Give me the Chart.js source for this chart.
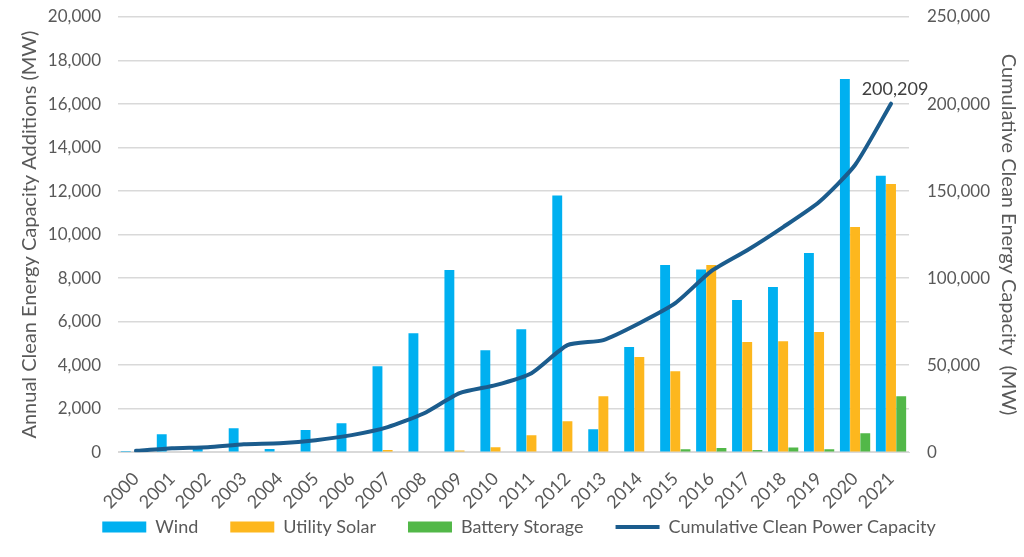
<!DOCTYPE html>
<html><head><meta charset="utf-8">
<script src="https://cdn.jsdelivr.net/npm/chart.js@4.4.1/dist/chart.umd.min.js"></script>
<style>html,body{margin:0;padding:0;background:#fff;}#wrap{width:1024px;height:557px;}</style>
</head><body><div id="wrap"><canvas id="c" width="1024" height="557"></canvas></div>
<script>
const years = ['2000','2001','2002','2003','2004','2005','2006','2007','2008','2009','2010','2011','2012','2013','2014','2015','2016','2017','2018','2019','2020','2021'];
const wind = [50,820,150,1100,150,1020,1330,3950,5470,8370,4690,5650,11800,1060,4830,8600,8400,6990,7590,9150,17150,12700];
const solar = [0,0,0,0,0,0,0,100,0,80,230,780,1420,2570,4370,3720,8600,5060,5100,5520,10350,12320];
const battery = [0,0,0,0,0,0,0,0,0,0,0,0,30,0,0,140,190,100,220,140,870,2570];
const cumulative = [800,2300,2900,4600,5200,6900,9800,14400,22200,33900,38500,45400,61500,64400,74100,85600,104000,116000,129300,143700,165000,200209];
const leftTicks = [0,2000,4000,6000,8000,10000,12000,14000,16000,18000,20000];
const rightTicks = [0,50000,100000,150000,200000,250000];
const endLabel = '200,209';

const FONT = 'Lato, "Open Sans", sans-serif';
const GREY = '#595959';
const fmt = v => v.toLocaleString('en-US');

const endLabelPlugin = {
  id: 'endLabel',
  afterDatasetsDraw(chart) {
    const meta = chart.getDatasetMeta(3);
    const pt = meta.data[meta.data.length - 1];
    const ctx = chart.ctx;
    ctx.save();
    ctx.font = '18px ' + FONT;
    ctx.fillStyle = '#404040';
    ctx.textAlign = 'center';
    ctx.textBaseline = 'bottom';
    ctx.fillText(endLabel, pt.x + 4, pt.y - 5);
    ctx.restore();
  }
};

const LEGEND_SHIFT = 35;
const legendShiftPlugin = {
  id: 'legendShift',
  afterLayout(chart) {
    if (chart.legend) { chart.legend.top -= LEGEND_SHIFT; chart.legend.bottom -= LEGEND_SHIFT; }
  }
};

new Chart(document.getElementById('c'), {
  type: 'bar',
  data: {
    labels: years,
    datasets: [
      {label: 'Wind', data: wind, backgroundColor: '#00B0F0', yAxisID: 'y', order: 1,
       categoryPercentage: 0.85, barPercentage: 0.97},
      {label: 'Utility Solar', data: solar, backgroundColor: '#FDB71E', yAxisID: 'y', order: 1,
       categoryPercentage: 0.85, barPercentage: 0.97},
      {label: 'Battery Storage', data: battery, backgroundColor: '#52B848', yAxisID: 'y', order: 1,
       categoryPercentage: 0.85, barPercentage: 0.97},
      {type: 'line', label: 'Cumulative Clean Power Capacity', data: cumulative, borderColor: '#1B5C8D',
       backgroundColor: '#1B5C8D', borderWidth: 4, pointRadius: 0, tension: 0.2, yAxisID: 'y1', order: 0,
       borderCapStyle: 'round'}
    ]
  },
  options: {
    responsive: false,
    animation: false,
    layout: {padding: {left: 18, right: 4, top: 17, bottom: -24}},
    plugins: {
      tooltip: {enabled: false},
      legend: {
        position: 'bottom',
        labels: {
          font: {family: FONT, size: 18},
          color: GREY,
          usePointStyle: true,
          pointStyleWidth: 44,
          boxHeight: 11,
          padding: 32,
          sort: (a, b) => a.datasetIndex - b.datasetIndex,
          generateLabels(chart) {
            return chart.data.datasets.map((ds, i) => {
              const isLine = ds.type === 'line';
              return {
                text: ds.label,
                fillStyle: ds.backgroundColor,
                strokeStyle: isLine ? ds.borderColor : ds.backgroundColor,
                lineWidth: isLine ? 4 : 0,
                pointStyle: isLine ? 'line' : 'rect',
                fontColor: GREY,
                datasetIndex: i,
                hidden: false
              };
            });
          }
        }
      }
    },
    scales: {
      x: {
        grid: {display: false},
        border: {color: '#D9D9D9', width: 1},
        ticks: {font: {family: FONT, size: 18}, color: GREY, maxRotation: 45, minRotation: 45, padding: 8, autoSkip: false}
      },
      y: {
        position: 'left',
        min: 0, max: 20000,
        afterBuildTicks: s => { s.ticks = leftTicks.map(v => ({value: v})); },
        afterFit: s => { s.width = 100; s.paddingTop = 0; s.paddingBottom = 0; },
        grid: {color: '#D9D9D9', lineWidth: 1.5, drawTicks: false},
        border: {display: false},
        ticks: {font: {family: FONT, size: 17}, color: GREY, padding: 17, callback: v => fmt(v)},
        title: {display: true, text: 'Annual Clean Energy Capacity Additions (MW)', font: {family: FONT, size: 20}, color: GREY, padding: 0}
      },
      y1: {
        position: 'right',
        min: 0, max: 250000,
        afterBuildTicks: s => { s.ticks = rightTicks.map(v => ({value: v})); },
        afterFit: s => { s.width = 111; s.paddingTop = 0; s.paddingBottom = 0; },
        grid: {drawOnChartArea: false, drawTicks: false},
        border: {display: false},
        ticks: {font: {family: FONT, size: 17}, color: GREY, padding: 18, callback: v => fmt(v)},
        title: {display: true, text: 'Cumulative Clean Energy Capacity  (MW)', font: {family: FONT, size: 20}, color: GREY, padding: 0}
      }
    }
  },
  plugins: [endLabelPlugin, legendShiftPlugin]
});
</script></body></html>
